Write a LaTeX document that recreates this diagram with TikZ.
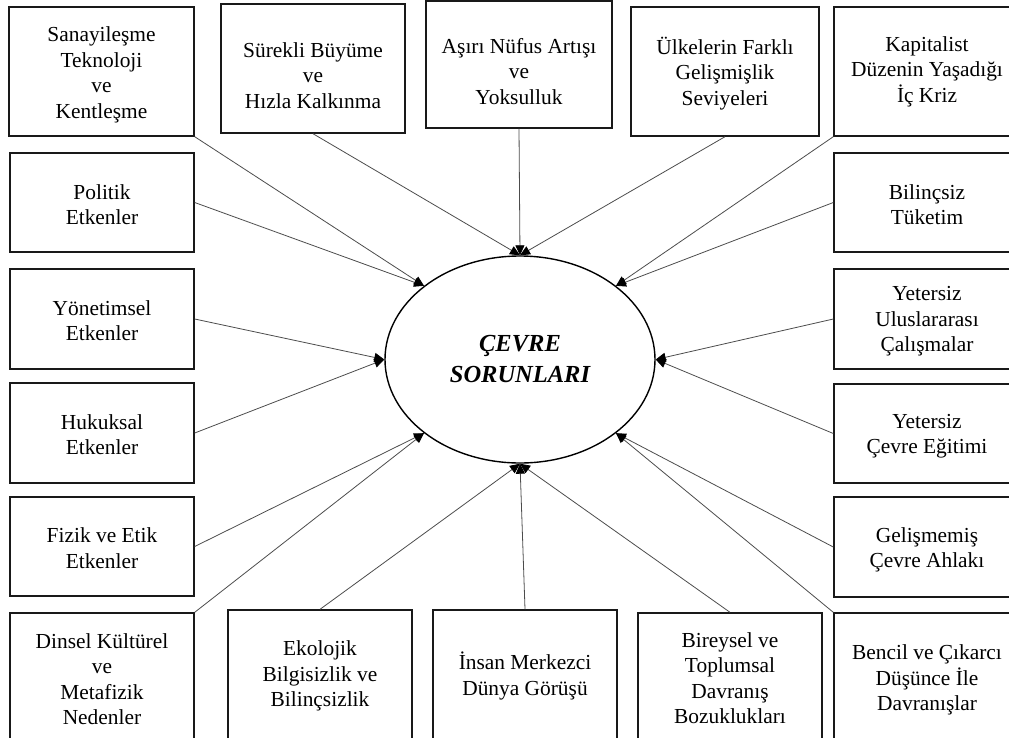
\documentclass[tikz,border=0pt]{standalone}
\usepackage{fontspec}
\setmainfont{Liberation Serif}
\usetikzlibrary{arrows.meta,shapes.geometric}

\tikzset{
  kutu/.style={draw=black!90, line width=1.4pt, inner sep=0pt},
  yazi/.style={align=center, font=\fontsize{21.4}{25.5}\selectfont},
  ok/.style={draw=black!70, line width=0.8pt, -{Triangle[length=10pt,width=9pt,color=black]}},
}

\begin{document}
\begin{tikzpicture}[x=1pt, y=-1pt]

\useasboundingbox (0,0) rectangle (1009,737);

% top row
\node[kutu, minimum width=185pt, minimum height=129pt, label={[yazi,yshift=-3.5pt]center:Sanayileşme\\Teknoloji\\ve\\Kentleşme}] (sanayi) at (101.5,71.5) {};
\node[kutu, minimum width=184pt, minimum height=129pt, label={[yazi,yshift=-7pt]center:Sürekli Büyüme\\ve\\Hızla Kalkınma}] (surekli) at (313,68.5) {};
\node[kutu, minimum width=186pt, minimum height=127pt, label={[yazi,yshift=-7pt]center:Aşırı Nüfus Artışı\\ve\\Yoksulluk}] (nufus) at (519,64.5) {};
\node[kutu, minimum width=188pt, minimum height=129pt, label={[yazi,yshift=-2pt]center:Ülkelerin Farklı\\Gelişmişlik\\Seviyeleri}] (ulke) at (725,71.5) {};
\node[kutu, minimum width=186pt, minimum height=129pt, label={[yazi]center:Kapitalist\\Düzenin Yaşadığı\\İç Kriz}] (kapital) at (927,71.5) {};

% left column
\node[kutu, minimum width=184pt, minimum height=99pt, label={[yazi,yshift=-2pt]center:Politik\\Etkenler}] (politik) at (102,202.5) {};
\node[kutu, minimum width=184pt, minimum height=100pt, label={[yazi,yshift=-1.5pt]center:Yönetimsel\\Etkenler}] (yonetim) at (102,319) {};
\node[kutu, minimum width=184pt, minimum height=100pt, label={[yazi,yshift=-1.5pt]center:Hukuksal\\Etkenler}] (hukuk) at (102,433) {};
\node[kutu, minimum width=184pt, minimum height=99pt, label={[yazi,yshift=-1.5pt]center:Fizik ve Etik\\Etkenler}] (fizik) at (102,546.5) {};
\node[kutu, minimum width=184pt, minimum height=132pt, label={[yazi]center:Dinsel Kültürel\\ve\\Metafizik\\Nedenler}] (dinsel) at (102,679) {};

% right column
\node[kutu, minimum width=186pt, minimum height=99pt, label={[yazi,yshift=-2pt]center:Bilinçsiz\\Tüketim}] (bilinc) at (927,202.5) {};
\node[kutu, minimum width=186pt, minimum height=100pt, label={[yazi,yshift=-2.5pt]center:Yetersiz\\Uluslararası\\Çalışmalar}] (uluslar) at (927,319) {};
\node[kutu, minimum width=186pt, minimum height=99pt, label={[yazi,yshift=-2.5pt]center:Yetersiz\\Çevre Eğitimi}] (egitim) at (927,433.5) {};
\node[kutu, minimum width=186pt, minimum height=100pt, label={[yazi,yshift=-3pt]center:Gelişmemiş\\Çevre Ahlakı}] (ahlak) at (927,547) {};
\node[kutu, minimum width=186pt, minimum height=134pt, label={[yazi]center:Bencil ve Çıkarcı\\Düşünce İle\\Davranışlar}] (bencil) at (927,680) {};

% bottom row
\node[kutu, minimum width=184pt, minimum height=132pt, label={[yazi]center:Ekolojik\\Bilgisizlik ve\\Bilinçsizlik}] (ekoloji) at (320,676) {};
\node[kutu, minimum width=184pt, minimum height=132pt, label={[yazi]center:İnsan Merkezci\\Dünya Görüşü}] (insan) at (525,676) {};
\node[kutu, minimum width=184pt, minimum height=130pt, label={[yazi]center:Bireysel ve\\Toplumsal\\Davranış\\Bozuklukları}] (bireysel) at (730,678) {};

% center
\node[draw, ellipse, line width=1.4pt, minimum width=270pt, minimum height=207pt, inner sep=0pt, align=center,
      font=\bfseries\itshape\fontsize{24.5}{31}\selectfont] (cevre) at (520,359.5) {ÇEVRE\\SORUNLARI};

% arrows
\draw[ok] (sanayi.south east) -- (cevre.north west);
\draw[ok] (politik.east) -- (cevre.north west);
\draw[ok] (surekli.south) -- (cevre.north);
\draw[ok] (nufus.south) -- (cevre.north);
\draw[ok] (ulke.south) -- (cevre.north);
\draw[ok] (kapital.south west) -- (cevre.north east);
\draw[ok] (bilinc.west) -- (cevre.north east);
\draw[ok] (yonetim.east) -- (cevre.west);
\draw[ok] (hukuk.east) -- (cevre.west);
\draw[ok] (uluslar.west) -- (cevre.east);
\draw[ok] (egitim.west) -- (cevre.east);
\draw[ok] (fizik.east) -- (cevre.south west);
\draw[ok] (dinsel.north east) -- (cevre.south west);
\draw[ok] (ahlak.west) -- (cevre.south east);
\draw[ok] (bencil.north west) -- (cevre.south east);
\draw[ok] (ekoloji.north) -- (cevre.south);
\draw[ok] (insan.north) -- (cevre.south);
\draw[ok] (bireysel.north) -- (cevre.south);

\end{tikzpicture}
\end{document}
